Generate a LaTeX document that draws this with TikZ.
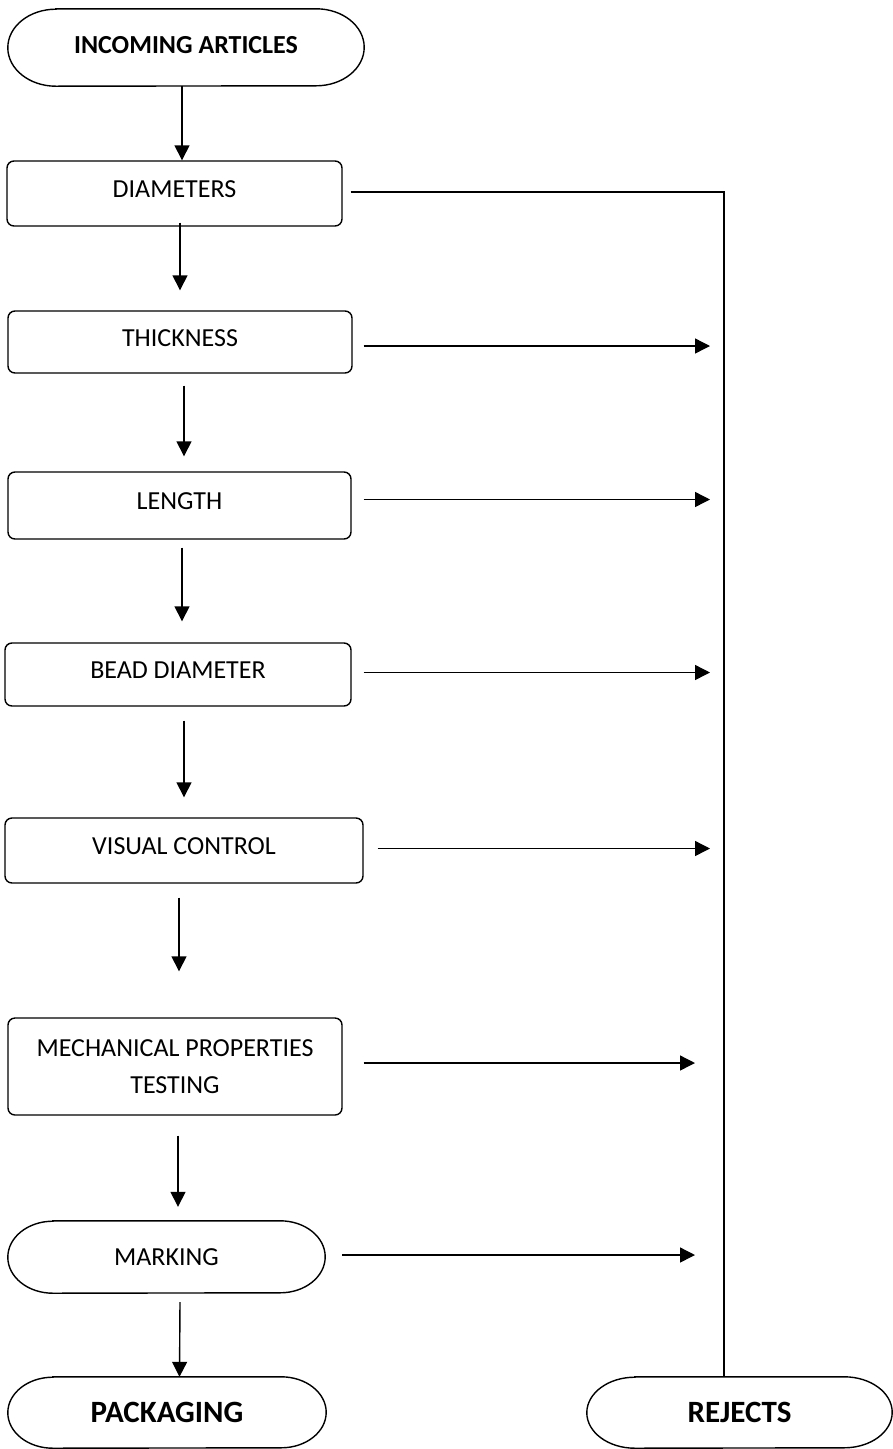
\documentclass[tikz,border=0pt]{standalone}
\usepackage{fontspec}
\setmainfont{Carlito}
\usetikzlibrary{arrows.meta,calc}
\newcommand\mystad[3]{%
  \draw[line] ([xshift=#2]#1.north west) -- ([xshift=-#2]#1.north east)
    arc[start angle=90,end angle=-90,x radius=#2,y radius=#3]
    -- ([xshift=#2]#1.south west)
    arc[start angle=270,end angle=90,x radius=#2,y radius=#3] -- cycle;}
\begin{document}
\begin{tikzpicture}[x=1pt,y=-1pt,
  line/.style={line width=1.4pt},
  arr/.style={line width=1.4pt,-{Triangle[length=15pt,width=15pt]}},
  box/.style={draw,line width=1.4pt,rounded corners=7pt,inner sep=0pt,
    font=\fontsize{26}{37}\selectfont,text depth=8pt,align=center},
  term/.style={inner sep=0pt,align=center}]
\useasboundingbox (0,0) rectangle (893,1449);
\fill[white] (0,0) rectangle (893,1449);

% terminals
\node[term,minimum width=356pt,minimum height=77pt,font=\fontsize{26}{30}\selectfont\bfseries,text depth=5pt] (inc) at (186,47.5) {INCOMING ARTICLES};
\node[term,minimum width=317pt,minimum height=72pt,font=\fontsize{26}{30}\selectfont] (mark) at (166.5,1257) {MARKING};
\node[term,minimum width=318pt,minimum height=71pt,font=\fontsize{31}{36}\selectfont\bfseries] (pack) at (167,1412.5) {PACKAGING};
\node[term,minimum width=305pt,minimum height=71pt,font=\fontsize{31}{36}\selectfont\bfseries] (rej) at (739.5,1412.5) {REJECTS};
\mystad{inc}{48pt}{38.5pt}
\mystad{mark}{45pt}{36pt}
\mystad{pack}{45pt}{35.5pt}
\mystad{rej}{48pt}{35.5pt}

% process boxes
\node[box,minimum width=335pt,minimum height=65pt] (diam) at (174.5,193.5) {DIAMETERS};
\node[box,minimum width=344pt,minimum height=62pt] (thick) at (180,342) {THICKNESS};
\node[box,minimum width=343pt,minimum height=67pt] (len) at (179.5,505.5) {LENGTH};
\node[box,minimum width=346pt,minimum height=63pt] (bead) at (178,674.5) {BEAD DIAMETER};
\node[box,minimum width=358pt,minimum height=65pt] (vis) at (184,850.5) {VISUAL CONTROL};
\node[box,minimum width=334pt,minimum height=97pt,text depth=0pt] (mech) at (175,1066.5) {MECHANICAL PROPERTIES\\TESTING};

% free ends of the reject arrows
\coordinate (tipA) at (710,0);
\coordinate (tipB) at (695,0);

% main flow
\draw[arr] ([xshift=-4pt]inc.south) -- ([xshift=-4pt]inc.south |- diam.north);
\draw[arr] ([xshift=5.5pt,yshift=4pt]diam.south) -- ([yshift=20pt]thick.north);
\draw[arr] ([xshift=4pt,yshift=-12pt]thick.south) -- ([xshift=4.5pt,yshift=15pt]len.north);
\draw[arr] ([xshift=2.5pt,yshift=-8pt]len.south) -- ([xshift=4pt,yshift=21pt]bead.north);
\draw[arr] ([xshift=6pt,yshift=-14pt]bead.south) -- ([yshift=20pt]vis.north);
\draw[arr] ([xshift=-5pt,yshift=-14pt]vis.south) -- ([xshift=4pt,yshift=46pt]mech.north);
\draw[arr] ([xshift=3pt,yshift=-20pt]mech.south) -- ([xshift=11.5pt,yshift=14pt]mark.north);
\draw[arr] ([xshift=13.5pt,yshift=-9pt]mark.south) -- ([xshift=13pt]mark.south |- pack.north);

% reject flow
\draw[line] ([xshift=8pt,yshift=1.5pt]diam.east) -| ([xshift=-15.5pt]rej.north);
\draw[arr] ([xshift=11pt,yshift=-4pt]thick.east) coordinate (t1) -- (t1 -| tipA);
\draw[arr] ([xshift=12pt,yshift=6pt]len.east) coordinate (t2) -- (t2 -| tipA);
\draw[arr] ([xshift=12pt,yshift=2pt]bead.east) coordinate (t3) -- (t3 -| tipA);
\draw[arr] ([xshift=14pt,yshift=2pt]vis.east) coordinate (t4) -- (t4 -| tipA);
\draw[arr] ([xshift=21pt,yshift=3.5pt]mech.east) coordinate (t5) -- (t5 -| tipB);
\draw[arr] ([xshift=17pt,yshift=2pt]mark.east) coordinate (t6) -- (t6 -| tipB);
\end{tikzpicture}
\end{document}
